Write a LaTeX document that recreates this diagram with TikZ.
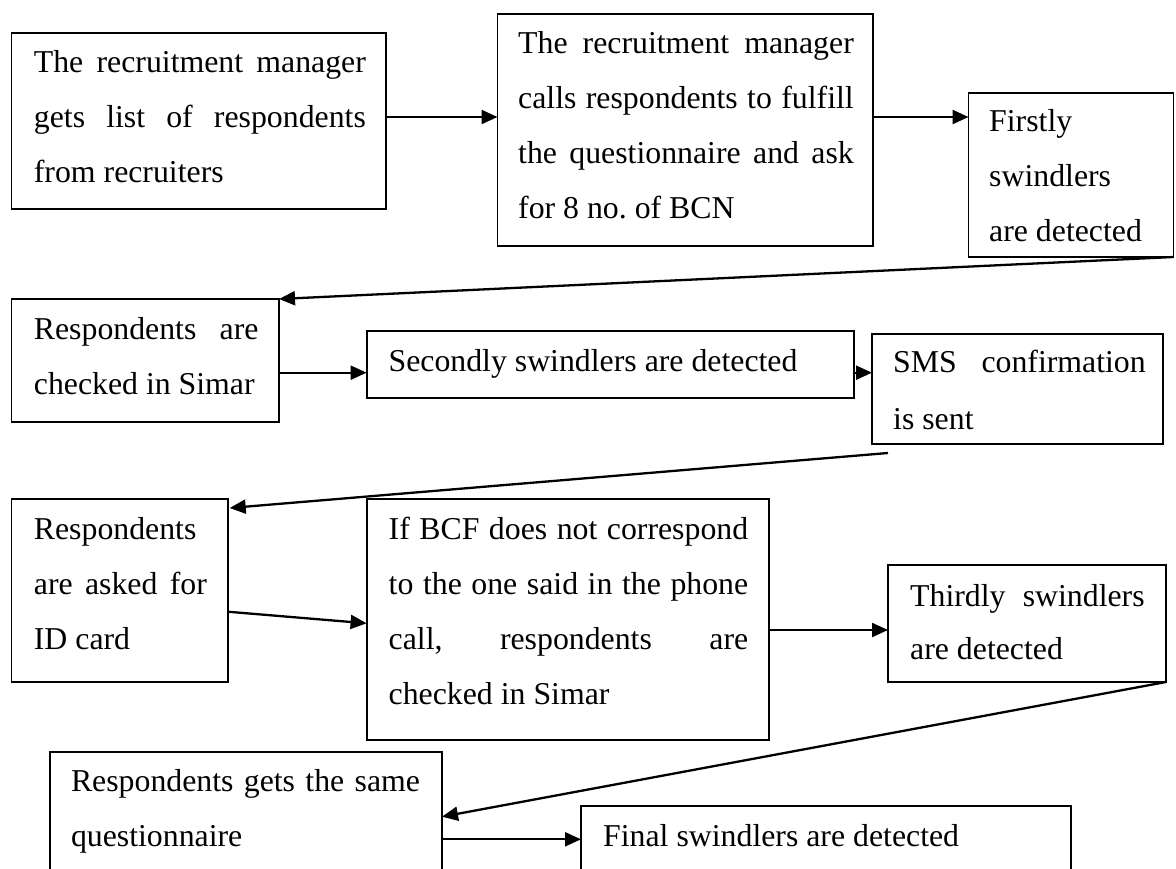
\documentclass[tikz,border=0pt]{standalone}
\usepackage{fontspec}
\setmainfont{Liberation Serif}
\usetikzlibrary{arrows.meta}
\tolerance=10000
\hbadness=10000
\frenchspacing
\begin{document}
\begin{tikzpicture}[x=1pt,y=-1pt,
  stepbox/.style={draw, line width=1.9pt, rectangle, inner sep=0pt, outer sep=0pt, anchor=north west},
  txt/.style={anchor=base west, inner sep=0pt, align=justify, font=\fontsize{31.8}{55}\selectfont},
  flow/.style={line width=2.3pt, -{Triangle[length=16pt,width=14pt]}}]
\useasboundingbox (0,0) rectangle (1176,869);
\clip (0,0) rectangle (1176,869);

% process boxes
\node[stepbox, minimum width=374.5pt, minimum height=176.3pt] (b1) at (11.5,32.7) {};
\node[stepbox, minimum width=375.5pt, minimum height=232pt]   (b2) at (497.5,14) {};
\node[stepbox, minimum width=205pt,   minimum height=164pt]   (b3) at (968.5,93) {};
\node[stepbox, minimum width=267.5pt, minimum height=123pt]   (b4) at (11.5,299) {};
\node[stepbox, minimum width=487.4pt, minimum height=67pt]    (b5) at (366.6,331) {};
\node[stepbox, minimum width=291pt,   minimum height=110pt]   (b6) at (872,334) {};
\node[stepbox, minimum width=216.2pt, minimum height=183pt]   (b7) at (11.5,499) {};
\node[stepbox, minimum width=402.8pt, minimum height=241pt]   (b8) at (366.6,499) {};
\node[stepbox, minimum width=278pt,   minimum height=117pt]   (b9) at (888,565) {};
\node[stepbox, minimum width=392.25pt,minimum height=160pt]   (b10) at (49.75,751.7) {};
\node[stepbox, minimum width=490pt,   minimum height=120pt]   (b11) at (581,806) {};

% texts
\node[txt, text width=332pt] (t1) at (33.7,72.5)
  {The recruitment manager\linebreak gets list of respondents\linebreak from recruiters};
\node[txt, text width=335.6pt] (t2) at (518,54)
  {The recruitment manager\linebreak calls respondents to fulfill\linebreak the questionnaire and ask\linebreak for 8 no. of BCN};
\node[txt, text width=175pt] (t3) at (989,132)
  {Firstly\newline swindlers\newline are detected};
\node[txt, text width=224.6pt] (t4) at (33.7,339)
  {Respondents are\linebreak checked in Simar};
\node[txt, text width=450pt] (t5) at (388.4,371)
  {Secondly swindlers are detected};
\node[txt, text width=252.6pt, font=\fontsize{31.8}{57}\selectfont] (t6) at (893,372)
  {SMS confirmation\linebreak is sent};
\node[txt, text width=173pt] (t7) at (33.7,539)
  {Respondents\newline are asked for\linebreak ID card};
\node[txt, text width=359.5pt] (t8) at (388.5,539)
  {If BCF does not correspond\linebreak to the one said in the phone\linebreak call, respondents are\linebreak checked in Simar};
\node[txt, text width=234.5pt, font=\fontsize{31.8}{53.3}\selectfont] (t9) at (910,606)
  {Thirdly swindlers\linebreak are detected};
\node[txt, text width=349pt] (t10) at (70.8,791)
  {Respondents gets the same\linebreak questionnaire};
\node[txt, text width=450pt] (t11) at (603,846)
  {Final swindlers are detected};

% connectors
\coordinate (p12) at ([shift={(0,-3.85)}]b1.east);
\draw[flow] (p12) -- (p12 -| b2.west);
\coordinate (p23) at ([shift={(0,-13)}]b2.east);
\draw[flow] (p23) -- (p23 -| b3.west);
\draw[flow] (b3.south east) -- (b4.north east);
\coordinate (p45) at ([shift={(0,12.2)}]b4.east);
\draw[flow] (p45) -- (p45 -| b5.west);
\coordinate (p56) at ([shift={(0,8.2)}]b5.east);
\draw[flow] (p56) -- (p56 -| b6.west);
\coordinate (s6) at ([shift={(16,9)}]b6.south west);
\draw[flow] (s6) -- ([shift={(2,9)}]b7.north east);
\draw[flow] ([shift={(0,21.2)}]b7.east) -- ([shift={(0,3.8)}]b8.west);
\coordinate (p89) at ([shift={(0,10.5)}]b8.east);
\draw[flow] (p89) -- (p89 -| b9.west);
\draw[flow] (b9.south east) -- ([shift={(0,65)}]b10.north east);
\coordinate (p1011) at ([shift={(0,87.6)}]b10.north east);
\draw[flow] (p1011) -- (p1011 -| b11.west);
\end{tikzpicture}
\end{document}
